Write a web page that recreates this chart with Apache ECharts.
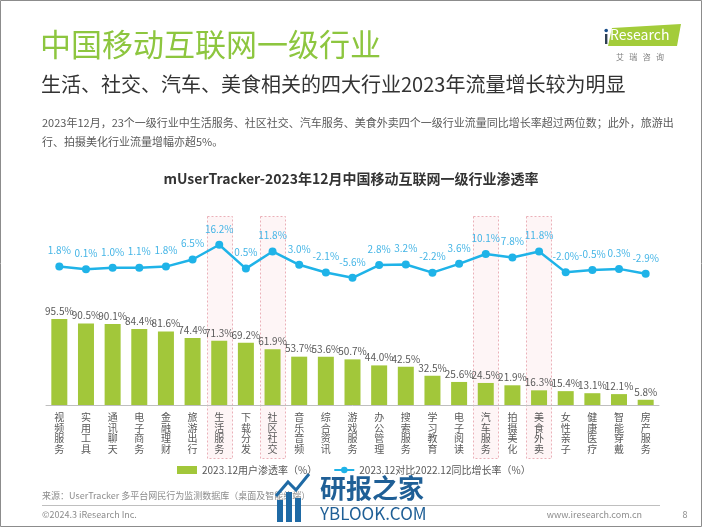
<!DOCTYPE html>
<html>
<head>
<meta charset="utf-8">
<script src="https://cdn.jsdelivr.net/npm/echarts@6/dist/echarts.min.js"></script>
<style>
html,body{margin:0;padding:0;background:#fff;}
#c{width:702px;height:527px;}
</style>
</head>
<body>
<div id="c"></div>
<script>
const categories = ['视频服务','实用工具','通讯聊天','电子商务','金融理财','旅游出行','生活服务','下载分发','社区社交','音乐音频','综合资讯','游戏服务','办公管理','搜索服务','学习教育','电子阅读','汽车服务','拍摄美化','美食外卖','女性亲子','健康医疗','智能穿戴','房产服务'];
const penetration = [95.5,90.5,90.1,84.4,81.6,74.4,71.3,69.2,61.9,53.7,53.6,50.7,44.0,42.5,32.5,25.6,24.5,21.9,16.3,15.4,13.1,12.1,5.8];
const growth = [1.8,0.1,1.0,1.1,1.8,6.5,16.2,0.5,11.8,3.0,-2.1,-5.6,2.8,3.2,-2.2,3.6,10.1,7.8,11.8,-2.0,-0.5,0.3,-2.9];
const highlighted = ['生活服务','社区社交','汽车服务','美食外卖'];
const seriesNames = ['2023.12用户渗透率（%）','2023.12对比2022.12同比增长率（%）'];

const FONT = '"Noto Sans CJK SC", "Noto Sans", sans-serif';
const chart = echarts.init(document.getElementById('c'), null, {renderer:'canvas'});

const baseGraphics = [
  {type:'rect', shape:{x:0.5,y:0.5,width:701,height:526}, style:{fill:'none', stroke:'#8c8c8c', lineWidth:1}, z:100},
  {type:'text', style:{text:'中国移动互联网一级行业', x:40, y:29, font:'31px '+FONT, fill:'#8dc63f'}},
  {type:'text', style:{text:'生活、社交、汽车、美食相关的四大行业2023年流量增长较为明显', x:41, y:74, font:'20px '+FONT, fill:'#333333'}},
  {type:'text', style:{text:'2023年12月，23个一级行业中生活服务、社区社交、汽车服务、美食外卖四个一级行业流量同比增长率超过两位数；此外，旅游出\n行、拍摄美化行业流量增幅亦超5%。', x:42, y:113, font:'11px '+FONT, lineHeight:19, fill:'#595959'}},
  {type:'text', style:{text:'mUserTracker-2023年12月中国移动互联网一级行业渗透率', x:351, y:179, align:'center', verticalAlign:'middle', font:'bold 14px '+FONT, fill:'#333333'}},
  // logo
  {type:'polygon', shape:{points:[[612,28],[681,24],[677,46],[608,46]]}, style:{fill:'#a3cc3a'}},
  {type:'rect', shape:{x:605,y:34,width:2.4,height:10}, style:{fill:'#2f3f52'}},
  {type:'circle', shape:{cx:606.2,cy:30.5,r:1.8}, style:{fill:'#1b4f8a'}},
  {type:'text', style:{text:'Research', x:610, y:28, font:'14px '+FONT, fill:'#ffffff'}},
  {type:'text', style:{text:'艾   瑞   咨   询', x:640, y:57, align:'center', verticalAlign:'middle', font:'8px '+FONT, fill:'#7f7f7f'}},
  // footer
  {type:'text', style:{text:'来源：UserTracker 多平台网民行为监测数据库（桌面及智能终端）', x:42, y:496, verticalAlign:'middle', font:'9px '+FONT, fill:'#8c8c8c'}},
  {type:'line', shape:{x1:42,y1:505.5,x2:660,y2:505.5}, style:{stroke:'#bfbfbf', lineWidth:1}},
  {type:'text', style:{text:'©2024.3 iResearch Inc.', x:42, y:515, verticalAlign:'middle', font:'9px '+FONT, fill:'#8c8c8c'}},
  {type:'text', style:{text:'www.iresearch.com.cn', x:642, y:515, align:'right', verticalAlign:'middle', font:'9px '+FONT, fill:'#8c8c8c'}},
  {type:'text', style:{text:'8', x:685, y:515, align:'center', verticalAlign:'middle', font:'9px '+FONT, fill:'#8c8c8c'}},
  // watermark
  {type:'rect', shape:{x:277,y:500,width:6,height:22}, style:{fill:'#1f6aa5'}},
  {type:'rect', shape:{x:286,y:492,width:6,height:30}, style:{fill:'#1f6aa5'}},
  {type:'rect', shape:{x:295,y:498,width:6,height:24}, style:{fill:'#1f6aa5'}},
  {type:'polyline', shape:{points:[[276,496],[288,482],[296,490],[309,474]]}, style:{stroke:'#1f6aa5', lineWidth:3, fill:'none'}},
  {type:'text', style:{text:'研报之家', x:320, y:475, font:'bold 26px '+FONT, fill:'#1f5f96'}},
  {type:'text', style:{text:'YBLOOK.COM', x:320, y:505, font:'17px '+FONT, fill:'#1f5f96'}}
];

const option = {
  animation:false,
  textStyle:{fontFamily:FONT},
  legend:{
    left:172, top:460, itemGap:16, itemWidth:20, itemHeight:8,
    textStyle:{fontSize:10, color:'#595959', fontFamily:FONT},
    data:[{name:seriesNames[0], icon:'rect'},{name:seriesNames[1]}]
  },
  grid:[
    {left:46, right:43, top:315, bottom:122},
    {left:46, right:43, top:239, height:45.5}
  ],
  xAxis:[
    {type:'category', gridIndex:0, data:categories,
      axisLine:{lineStyle:{color:'#bfbfbf'}}, axisTick:{show:false},
      axisLabel:{interval:0, margin:7, fontSize:10, lineHeight:10.5, color:'#595959', fontFamily:FONT,
        formatter:v=>v.split('').join('\n')}},
    {type:'category', gridIndex:1, data:categories, show:false}
  ],
  yAxis:[
    {type:'value', gridIndex:0, min:0, max:100, show:false, splitLine:{show:false}},
    {type:'value', gridIndex:1, min:-10, max:20, show:false, splitLine:{show:false}}
  ],
  series:[
    {name:seriesNames[0], type:'bar', xAxisIndex:0, yAxisIndex:0, data:penetration, barWidth:16,
      itemStyle:{color:'#a2c73a'}, z:3,
      label:{show:true, position:'top', distance:3, fontSize:10, color:'#595959', fontFamily:FONT,
        formatter:p=>p.value.toFixed(1)+'%'}},
    {name:seriesNames[1], type:'line', xAxisIndex:1, yAxisIndex:1, data:growth,
      symbol:'circle', symbolSize:8, lineStyle:{width:2.5, color:'#1fb3e8'}, itemStyle:{color:'#1fb3e8'}, z:3,
      label:{show:true, position:'top', distance:7, fontSize:10, color:'#45b5e6', fontFamily:FONT,
        formatter:p=>p.value.toFixed(1)+'%'}}
  ],
  graphic:baseGraphics
};
chart.setOption(option);

// highlight boxes aligned to category bands
const boxes = highlighted.map(name=>{
  const cx = chart.convertToPixel({xAxisIndex:0}, name);
  const band = chart.getModel().getComponent('xAxis',0).axis.getBandWidth();
  const w = band - 1.5;
  return {type:'rect', z:-10, shape:{x:Math.round(cx - w/2)+0.5, y:216.5, width:Math.round(w), height:242},
    style:{fill:'rgba(252,232,234,0.45)', stroke:'#eab0b8', lineWidth:1, lineDash:[2,2]}};
});
chart.setOption({graphic: baseGraphics.concat(boxes)});
</script>
</body>
</html>
